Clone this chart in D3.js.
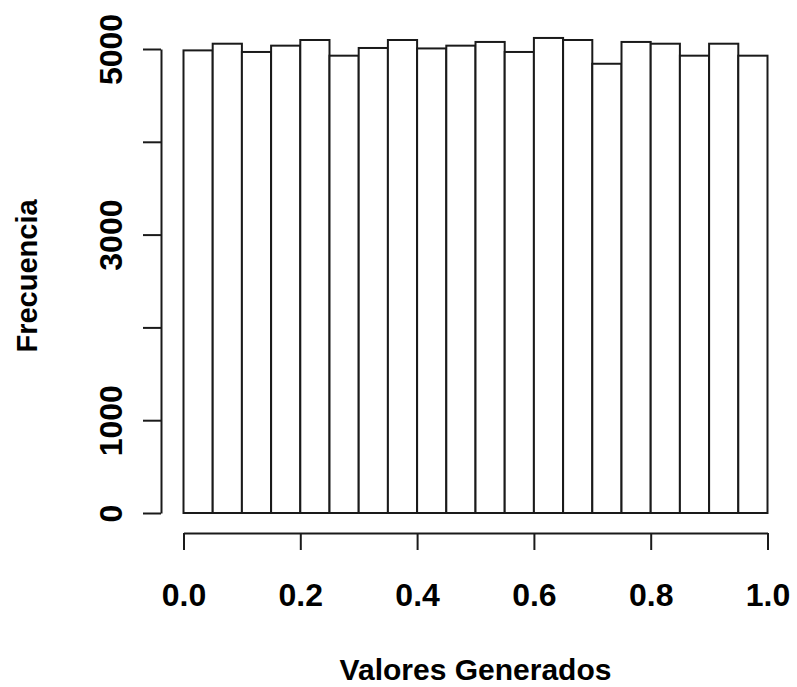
<!DOCTYPE html>
<html>
<head>
<meta charset="utf-8">
<script src="https://cdn.jsdelivr.net/npm/d3@7"></script>
<style>
  body { margin: 0; background: #fff; }
  text { font-family: "Liberation Sans", Arial, sans-serif; font-weight: bold; fill: #000; }
</style>
</head>
<body>
<div id="chart"></div>
<script>
let width = 797,
    height = 687;

// histogram: 20 bins on [0, 1]
let binEdges = [0, 0.05, 0.1, 0.15, 0.2, 0.25, 0.3, 0.35, 0.4, 0.45, 0.5,
                0.55, 0.6, 0.65, 0.7, 0.75, 0.8, 0.85, 0.9, 0.95, 1.0];
let counts = [4985, 5057, 4968, 5036, 5097, 4928, 5011, 5097, 5006, 5036,
              5076, 4968, 5119, 5097, 4841, 5076, 5057, 4928, 5057, 4928];
let xTicks = [0, 0.2, 0.4, 0.6, 0.8, 1.0];
let yTicks = [0, 1000, 2000, 3000, 4000, 5000];
let yTickLabels = ["0", "1000", "", "3000", "", "5000"]; // R drops the overlapping ones

let svg = d3.select("#chart")
    .append("svg")
    .attr("width", width)
    .attr("height", height);

let x = d3.scaleLinear().domain([0, 1]).range([183.5, 767.5]);
let y = d3.scaleLinear().domain([0, 5000]).range([513, 49]);

let lineColor = "#1a1a1a";

// bars
svg.append("g")
    .selectAll("rect")
    .data(counts)
    .enter()
    .append("rect")
    .attr("x", (d, i) => x(binEdges[i]))
    .attr("y", d => y(d))
    .attr("width", (d, i) => x(binEdges[i + 1]) - x(binEdges[i]))
    .attr("height", d => y(0) - y(d))
    .style("fill", "#fff")
    .style("stroke", lineColor)
    .style("stroke-width", 2);

// x axis
let xAxis = svg.append("g")
    .attr("transform", "translate(0,533)")
    .call(d3.axisBottom(x).tickValues(xTicks).tickSize(17).tickSizeOuter(0)
        .tickFormat(d3.format(".1f")));
xAxis.select(".domain").attr("stroke", lineColor).attr("stroke-width", 2);
xAxis.selectAll(".tick line").attr("stroke", lineColor).attr("stroke-width", 2);
xAxis.selectAll(".tick text")
    .attr("y", 73)
    .attr("dy", 0)
    .style("font-size", "32px");

// y axis
let yAxis = svg.append("g")
    .attr("transform", "translate(161,0)")
    .call(d3.axisLeft(y).tickValues(yTicks).tickSize(18).tickSizeOuter(0)
        .tickFormat((d, i) => yTickLabels[i]));
yAxis.select(".domain").attr("stroke", lineColor).attr("stroke-width", 2);
yAxis.selectAll(".tick line").attr("stroke", lineColor).attr("stroke-width", 2);
yAxis.selectAll(".tick text")
    .attr("x", 0)
    .attr("dy", 0)
    .attr("text-anchor", "middle")
    .attr("transform", "translate(-39,0) rotate(-90)")
    .style("font-size", "32px");

// axis titles
svg.append("text")
    .attr("x", (x(0) + x(1)) / 2)
    .attr("y", 680)
    .attr("text-anchor", "middle")
    .style("font-size", "30px")
    .text("Valores Generados");

svg.append("text")
    .attr("transform", "translate(37,276) rotate(-90)")
    .attr("text-anchor", "middle")
    .style("font-size", "29px")
    .text("Frecuencia");
</script>
</body>
</html>
